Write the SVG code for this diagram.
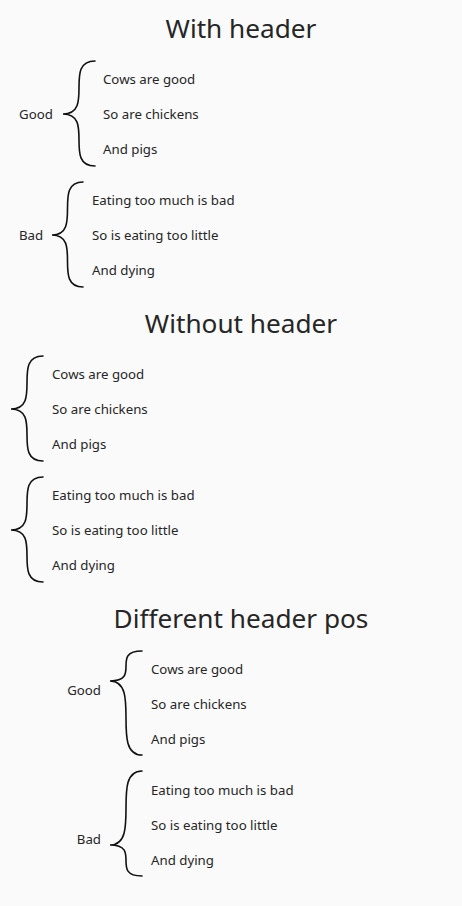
<svg xmlns="http://www.w3.org/2000/svg" width="462" height="906" viewBox="0 0 462 906">
<style>
.bg{fill:#fafafa}
text{font-family:"Noto Sans","Open Sans",sans-serif;fill:#262626}
.t{font-size:26.2px;text-anchor:middle}
.i{font-size:13.25px}
.r{text-anchor:end}
.b{fill:none;stroke:#111;stroke-width:1.6;stroke-linecap:round}
</style>
<rect class="bg" x="0" y="0" width="462" height="906"/>
<g id="sec1">
  <text class="t" x="241" y="38">With header</text>
  <g id="s1-good">
    <text class="i" x="19" y="119">Good</text>
    <text class="i" x="103" y="84">Cows are good</text>
    <text class="i" x="103" y="119">So are chickens</text>
    <text class="i" x="103" y="154">And pigs</text>
  </g>
  <g id="s1-bad">
    <text class="i" x="19" y="240">Bad</text>
    <text class="i" x="92" y="205">Eating too much is bad</text>
    <text class="i" x="92" y="240">So is eating too little</text>
    <text class="i" x="92" y="275">And dying</text>
  </g>
</g>
<g id="sec2">
  <text class="t" x="241" y="333">Without header</text>
  <g id="s2-good">
    <text class="i" x="52" y="379">Cows are good</text>
    <text class="i" x="52" y="414">So are chickens</text>
    <text class="i" x="52" y="449">And pigs</text>
  </g>
  <g id="s2-bad">
    <text class="i" x="52" y="500">Eating too much is bad</text>
    <text class="i" x="52" y="535">So is eating too little</text>
    <text class="i" x="52" y="570">And dying</text>
  </g>
</g>
<g id="sec3">
  <text class="t" x="241" y="628">Different header pos</text>
  <g id="s3-good">
    <text class="i r" x="101" y="695">Good</text>
    <text class="i" x="151" y="674">Cows are good</text>
    <text class="i" x="151" y="709">So are chickens</text>
    <text class="i" x="151" y="744">And pigs</text>
  </g>
  <g id="s3-bad">
    <text class="i r" x="101" y="844">Bad</text>
    <text class="i" x="151" y="795">Eating too much is bad</text>
    <text class="i" x="151" y="830">So is eating too little</text>
    <text class="i" x="151" y="865">And dying</text>
  </g>
</g>
<g id="braces">
  <path class="b" d="M95,61 C63,61 95,114 63,114 C95,114 63,166 95,166"/>
  <path class="b" d="M83,182 C52,182 83,235 52,235 C83,235 52,287 83,287"/>
  <path class="b" d="M43,356 C11,356 43,409 11,409 C43,409 11,461 43,461"/>
  <path class="b" d="M43,477 C11,477 43,530 11,530 C43,530 11,582 43,582"/>
  <path class="b" d="M142,651 C110,651 142,681 110,681 C142,681 110,755 142,755"/>
  <path class="b" d="M142,771 C110,771 142,845 110,845 C142,845 110,876 142,876"/>
</g>
</svg>
